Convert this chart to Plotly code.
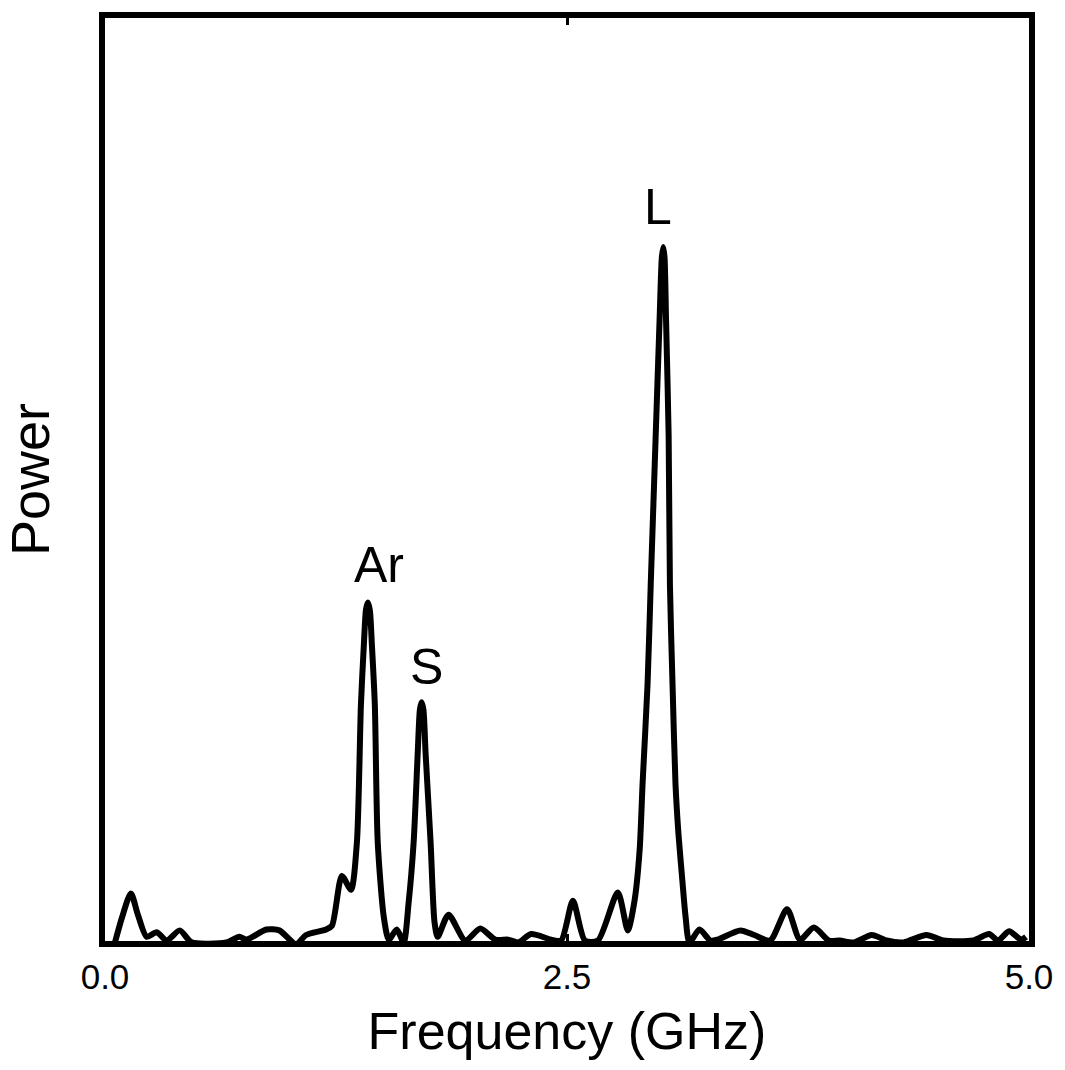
import plotly.graph_objects as go

# Frequency (GHz) and power (arbitrary units, 0-100 scale)
freq = [0.054, 0.092, 0.140, 0.178, 0.226, 0.280, 0.334, 0.404, 0.469, 0.657,
        0.727, 0.765, 0.873, 0.943, 1.034, 1.088, 1.196, 1.228, 1.282, 1.331,
        1.363, 1.385, 1.401, 1.412, 1.422, 1.433, 1.444, 1.460, 1.476, 1.509,
        1.536, 1.579, 1.616, 1.643, 1.670, 1.692, 1.704, 1.713, 1.723, 1.735,
        1.762, 1.783, 1.800, 1.859, 1.950, 2.031, 2.112, 2.182, 2.236, 2.306,
        2.414, 2.468, 2.532, 2.597, 2.667, 2.775, 2.829, 2.866, 2.893, 2.909,
        2.936, 2.953, 2.980, 3.001, 3.013, 3.021, 3.028, 3.036, 3.050, 3.057,
        3.071, 3.087, 3.103, 3.125, 3.141, 3.163, 3.217, 3.276, 3.314, 3.438,
        3.513, 3.599, 3.691, 3.761, 3.836, 3.917, 3.976, 4.052, 4.149, 4.230,
        4.321, 4.445, 4.537, 4.698, 4.784, 4.833, 4.892, 4.957, 4.984]
power = [0.2, 2.9, 5.5, 3.2, 0.8, 1.3, 0.4, 1.5, 0.2, 0.2,
         0.8, 0.5, 1.6, 1.5, 0.0, 1.0, 1.6, 2.0, 7.4, 5.9,
         11.0, 26.0, 32.5, 36.2, 37.0, 36.2, 32.5, 26.0, 11.0, 2.9,
         0.5, 1.6, 0.2, 4.5, 11.0, 20.6, 25.4, 26.2, 25.4, 20.6,
         11.0, 2.4, 0.8, 3.2, 0.4, 1.7, 0.5, 0.5, 0.2, 1.1,
         0.5, 0.4, 4.7, 0.4, 0.4, 5.6, 1.5, 4.8, 10.2, 17.4,
         28.2, 38.9, 55.1, 67.6, 74.3, 75.5, 74.3, 67.6, 55.1, 38.9,
         28.2, 17.4, 12.0, 6.7, 3.1, 0.2, 1.6, 0.4, 0.5, 1.5,
         1.0, 0.4, 3.8, 0.5, 1.8, 0.4, 0.4, 0.2, 1.0, 0.4,
         0.2, 1.0, 0.4, 0.4, 1.1, 0.4, 1.4, 0.5, 0.8]

tick_vals = [0.0, 2.5, 5.0]
tick_text = ["0.0", "2.5", "5.0"]

peak_labels = ["Ar", "S", "L"]
peak_label_x = [1.48, 1.74, 2.99]
peak_label_y = [41.1, 30.0, 79.8]

FONT = "Liberation Sans, Arial, Helvetica, sans-serif"

fig = go.Figure()
fig.add_trace(go.Scatter(
    x=freq, y=power, mode="lines",
    line=dict(color="black", width=6, shape="spline", smoothing=0.7),
    showlegend=False, hoverinfo="skip",
))

for t, x, y in zip(peak_labels, peak_label_x, peak_label_y):
    fig.add_annotation(x=x, y=y, text=t, showarrow=False,
                       font=dict(family=FONT, size=50, color="black"),
                       xanchor="center", yanchor="middle")

fig.update_layout(
    width=1065, height=1070,
    margin=dict(l=105, r=32, t=12, b=129),
    paper_bgcolor="white", plot_bgcolor="white",
    font=dict(family=FONT, color="black"),
    xaxis=dict(
        range=[0, 5], tickvals=tick_vals, ticktext=tick_text,
        showgrid=False, zeroline=False,
        showline=True, linecolor="black", linewidth=6, mirror="ticks",
        ticks="inside", ticklen=7, tickwidth=3, tickcolor="black",
        tickfont=dict(family=FONT, size=35, color="black"),
        title=dict(text="Frequency (GHz)", font=dict(family=FONT, size=52, color="black"),
                   standoff=20),
    ),
    yaxis=dict(
        range=[0.35, 100.3], showticklabels=False, ticks="",
        showgrid=False, zeroline=False,
        showline=True, linecolor="black", linewidth=6, mirror=True,
        title=dict(text="Power", font=dict(family=FONT, size=54, color="black"),
                   standoff=34),
    ),
)

fig.write_html("out.html", config={"displayModeBar": False},
               post_script="document.body.style.margin='0';document.body.style.overflow='hidden';")
